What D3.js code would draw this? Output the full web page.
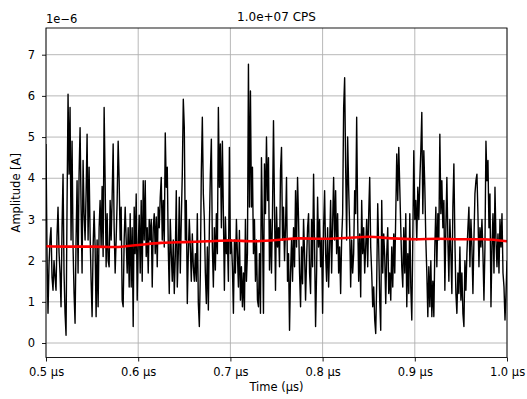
<!DOCTYPE html>
<html>
<head>
<meta charset="utf-8">
<script src="https://cdn.jsdelivr.net/npm/d3@7"></script>
<style>
  body { margin: 0; background: #fff; }
  svg { display: block; font-family: "DejaVu Sans", sans-serif; }
</style>
</head>
<body>
<div id="chart"></div>
<script>
// ---- data (amplitudes in units of 1e-6 A) ----
const title = '1.0e+07 CPS';
const timeRange = [0.5, 1.0];            // µs
const xTicks = [0.5, 0.6, 0.7, 0.8, 0.9, 1.0];
const yTicks = [0, 1, 2, 3, 4, 5, 6, 7];
const yOffsetText = '1e\u22126';

// raw trace, one 0.1 µs block at a time
const amp05 = [4.83,2.2,0.72,1.9,2.5,2.8,1.6,1.28,2.0,1.6,1.28,2.6,3.3,2.2,1.7,0.88,2.8,4.1,1.7,0.72,0.19,3.3,6.04,4.1,5.72,2.5,
  4.9,2.33,1.2,0.48,2.5,3.94,1.7,4.1,5.23,3.3,1.7,4.43,3.14,2.5,3.62,5.07,2.5,4.27,2.65,1.52,0.64,2.33,3.2,2.33,0.64,2.5,0.88,2.8,
  3.46,2.33,3.8,2.1,5.72,3.94,1.85,3.14,2.0,1.85,3.46,2.5,3.54,4.83,2.8,1.7,2.5,3.46,4.9,3.94,2.5,3.3,1.04,0.88,2.5,3.3,2.5,1.7,
  2.8,1.36,3.14,1.36,2.8,0.4,3.3,2.17,3.62,1.04,2.33];
const amp06 = [3.1,1.7,3.46,1.5,3.94,2.5,3.94,2.1,2.8,1.7,3.0,2.5,3.0,1.36,2.8,3.14,2.17,3.06,1.85,3.3,2.8,3.54,4.02,2.5,3.46,2.33,
  5.1,3.78,4.27,2.33,1.2,3.0,2.17,1.5,2.5,1.2,2.1,3.7,1.36,2.17,3.54,1.7,3.0,4.1,5.92,5.23,2.5,3.46,0.96,2.17,3.0,2.33,1.5,2.65,
  1.85,1.5,2.17,1.5,3.14,0.96,0.4,1.7,4.19,5.48,3.62,3.0,1.7,0.96,2.33,0.8,2.8,4.1,4.95,2.33,1.36,2.8,1.77,3.14,2.17,5.72,3.78,4.83,
  2.8,4.9,3.14,1.28,3.06,2.17,2.5,1.5,4.75,2.17];
const amp07 = [2.5,1.85,0.72,2.5,1.7,3.0,2.17,1.36,2.73,1.04,1.85,0.88,1.7,0.8,3.0,1.5,2.17,6.77,3.3,6.12,3.3,4.27,2.17,3.0,1.5,2.5,
  1.04,0.88,2.17,0.72,4.5,2.8,0.72,4.35,3.14,5.0,3.46,4.5,1.77,3.0,1.7,3.14,5.4,3.3,1.28,3.3,2.33,2.8,1.85,4.19,4.75,2.5,3.3,2.0,
  2.8,4.02,1.5,2.17,0.31,1.7,2.5,1.5,2.8,1.85,3.7,2.33,4.02,3.0,1.7,0.88,2.33,1.44,3.0,2.17,1.04,2.0,2.8,3.14,1.7,1.2,3.0,1.85,
  4.1,2.33,0.4,1.7,3.54,2.33,3.0,1.85,2.5,0.72];
const amp08 = [2.8,3.7,2.17,1.5,2.8,1.36,2.33,3.46,1.7,2.9,4.02,2.5,3.7,2.17,3.14,1.7,2.33,1.2,2.5,3.14,5.72,6.44,4.27,2.5,5.0,3.78,
  2.8,1.36,2.5,1.7,2.17,3.7,3.14,5.48,3.0,1.5,2.65,1.12,3.46,2.17,2.8,1.7,2.33,3.0,1.85,3.14,4.02,2.33,1.7,0.88,1.36,0.56,0.23,1.5,
  3.38,2.33,1.04,0.31,3.46,1.7,2.65,2.1,0.96,2.17,2.8,1.2,1.7,1.04,2.33,1.36,2.65,1.7,3.14,4.59,3.46,4.75,3.78,2.8,1.85,1.36,2.8,1.7,
  3.14,0.88,2.17,1.2,3.14,1.36,0.56,2.5,4.67,3.0];
const amp09 = [3.46,2.5,3.78,3.0,3.94,4.67,5.6,3.14,4.67,3.78,2.5,1.7,0.64,1.85,0.88,2.0,0.64,1.5,0.64,2.33,3.3,1.85,3.14,2.5,5.07,
  3.14,3.94,2.8,3.46,1.28,2.8,4.02,2.5,1.5,3.0,2.17,1.2,3.3,4.35,2.5,1.2,0.72,1.7,1.2,2.33,1.04,1.7,0.72,0.4,2.0,1.28,2.17,2.8,3.3,
  1.85,3.0,2.33,1.2,2.5,3.62,3.94,4.1,3.14,1.85,2.8,2.33,3.0,2.17,1.04,2.33,4.9,3.94,4.43,2.8,3.62,0.88,2.33,3.14,1.7,3.78,2.5,1.85,
  2.65,1.7,3.0,2.33,3.14,1.7,1.36,0.56,1.2,2.0];

// smoothed mean (red)
const meanTime = [0.5,0.525,0.55,0.575,0.6,0.625,0.65,0.675,0.7,0.725,0.75,0.775,0.8,0.825,0.85,0.875,0.9,0.925,0.95,0.975,1.0];
const meanAmp  = [2.35,2.34,2.34,2.33,2.38,2.43,2.45,2.47,2.49,2.47,2.50,2.54,2.53,2.55,2.58,2.54,2.52,2.53,2.52,2.52,2.47];

// ---- layout ----
const width = 527, height = 399;
const plot = { left: 46, right: 507, top: 28, bottom: 357.5 };
const fontSize = 11.5;

const amplitude = [].concat(amp05, amp06, amp07, amp08, amp09);
const n = amplitude.length;
const trace = amplitude.map((v, i) => ({ t: timeRange[0] + (timeRange[1] - timeRange[0]) * i / (n - 1), v }));
const mean = meanTime.map((t, i) => ({ t, v: meanAmp[i] }));

const x = d3.scaleLinear().domain(timeRange).range([plot.left, plot.right]);
const y = d3.scaleLinear().domain([-0.352, 7.648]).range([plot.bottom, plot.top]);

const svg = d3.select('#chart').append('svg')
  .attr('width', width)
  .attr('height', height);

svg.append('rect').attr('width', width).attr('height', height).attr('fill', '#fff');

svg.append('defs').append('clipPath').attr('id', 'clip')
  .append('rect')
  .attr('x', plot.left).attr('y', plot.top)
  .attr('width', plot.right - plot.left).attr('height', plot.bottom - plot.top);

// grid
const grid = svg.append('g').attr('class', 'grid')
  .attr('stroke', '#b0b0b0').attr('stroke-width', 0.9);
grid.selectAll('line.gx').data(xTicks).join('line')
  .attr('class', 'gx')
  .attr('x1', d => x(d)).attr('x2', d => x(d))
  .attr('y1', plot.top).attr('y2', plot.bottom);
grid.selectAll('line.gy').data(yTicks).join('line')
  .attr('class', 'gy')
  .attr('x1', plot.left).attr('x2', plot.right)
  .attr('y1', d => y(d)).attr('y2', d => y(d));

// lines
const line = d3.line().x(d => x(d.t)).y(d => y(d.v));
const lines = svg.append('g').attr('clip-path', 'url(#clip)');
lines.append('path')
  .datum(trace)
  .attr('d', line)
  .attr('fill', 'none')
  .attr('stroke', '#000')
  .attr('stroke-width', 1.4)
  .attr('stroke-linejoin', 'round');
lines.append('path')
  .datum(mean)
  .attr('d', line.curve(d3.curveMonotoneX))
  .attr('fill', 'none')
  .attr('stroke', '#ff0000')
  .attr('stroke-width', 2.6)
  .attr('stroke-linecap', 'round')
  .attr('stroke-linejoin', 'round');

// axes
const xAxis = g => g
  .attr('transform', `translate(0, ${plot.bottom})`)
  .call(d3.axisBottom(x).tickValues(xTicks).tickSize(4).tickPadding(6)
    .tickFormat(d => d3.format('.1f')(d) + ' \u00b5s'))
  .call(c => c.select('.domain').remove());
const yAxis = g => g
  .attr('transform', `translate(${plot.left}, 0)`)
  .call(d3.axisLeft(y).tickValues(yTicks).tickSize(4).tickPadding(7).tickFormat(d3.format('d')))
  .call(c => c.select('.domain').remove());

svg.append('g').call(xAxis);
svg.append('g').call(yAxis);
svg.selectAll('.tick line').attr('stroke', '#000').attr('stroke-width', 0.9);
svg.selectAll('.tick text')
  .attr('fill', '#000')
  .style('font-family', '"DejaVu Sans", sans-serif')
  .style('font-size', fontSize + 'px');

// spines
svg.append('rect')
  .attr('x', plot.left).attr('y', plot.top)
  .attr('width', plot.right - plot.left).attr('height', plot.bottom - plot.top)
  .attr('fill', 'none').attr('stroke', '#000').attr('stroke-width', 0.9);

// texts
svg.append('text')
  .attr('x', (plot.left + plot.right) / 2).attr('y', 21)
  .attr('text-anchor', 'middle')
  .style('font-size', '12px')
  .text(title);
svg.append('text')
  .attr('x', plot.left).attr('y', 23)
  .style('font-size', fontSize + 'px')
  .text(yOffsetText);
svg.append('text')
  .attr('x', (plot.left + plot.right) / 2).attr('y', 391)
  .attr('text-anchor', 'middle')
  .style('font-size', fontSize + 'px')
  .text('Time (\u00b5s)');
svg.append('text')
  .attr('transform', `translate(20, ${(plot.top + plot.bottom) / 2}) rotate(-90)`)
  .attr('text-anchor', 'middle')
  .style('font-size', fontSize + 'px')
  .text('Amplitude [A]');
</script>
</body>
</html>
